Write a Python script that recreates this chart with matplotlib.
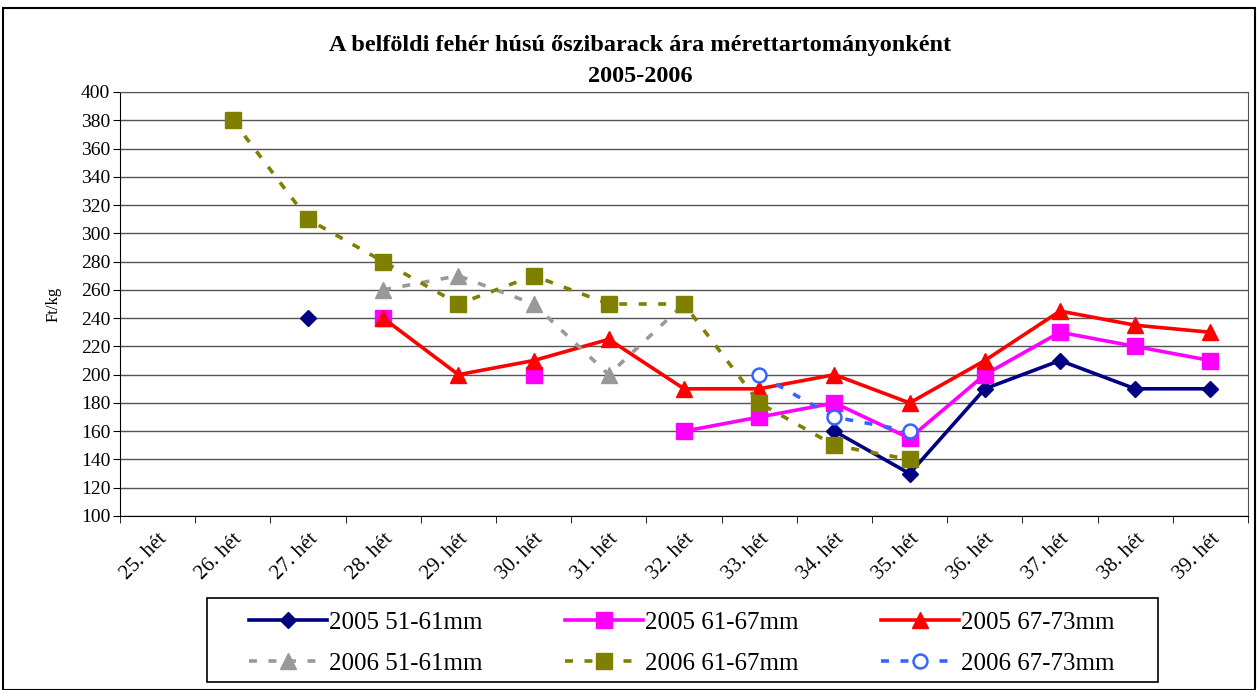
import numpy as np
import matplotlib
matplotlib.use('Agg')
import matplotlib.pyplot as plt
from matplotlib.patches import Rectangle

plt.rcParams['font.family'] = ['Liberation Serif', 'DejaVu Serif']

weeks = [f'{w}. hét' for w in range(25, 40)]
nan = np.nan
# 25 ... 39. hét
s2005_51 = [nan, nan, 240, nan, nan, nan, nan, nan, nan, 160, 130, 190, 210, 190, 190]
s2005_61 = [nan, nan, nan, 240, nan, 200, nan, 160, 170, 180, 155, 200, 230, 220, 210]
s2005_67 = [nan, nan, nan, 240, 200, 210, 225, 190, 190, 200, 180, 210, 245, 235, 230]
s2006_51 = [nan, nan, nan, 260, 270, 250, 200, 250, nan, nan, nan, nan, nan, nan, nan]
s2006_61 = [nan, 380, 310, 280, 250, 270, 250, 250, 180, 150, 140, nan, nan, nan, nan]
s2006_67 = [nan, nan, nan, nan, nan, nan, nan, nan, 200, 170, 160, nan, nan, nan, nan]

fig = plt.figure(figsize=(12.58, 6.9), dpi=100)
ax = fig.add_axes([120/1258, 1-516/690, 1128/1258, 424/690])
x = np.arange(len(weeks))

dash = (0, (2.2, 3.2))
h1, = ax.plot(x, s2005_51, color='#000080', lw=2.6, marker='D', ms=8, label='2005 51-61mm')
h2, = ax.plot(x, s2005_61, color='#FF00FF', lw=2.6, marker='s', ms=11, label='2005 61-67mm')
h3, = ax.plot(x, s2005_67, color='#FF0000', lw=2.6, marker='^', ms=12, label='2005 67-73mm')
h4, = ax.plot(x, s2006_51, color='#999999', lw=2.6, ls=dash, marker='^', ms=12, label='2006 51-61mm')
h5, = ax.plot(x, s2006_61, color='#808000', lw=2.6, ls=dash, marker='s', ms=11, label='2006 61-67mm')
h6, = ax.plot(x, s2006_67, color='#3366FF', lw=2.6, ls=dash, marker='o', ms=10,
              mfc='white', mec='#3366FF', mew=1.8, label='2006 67-73mm')

ax.set_ylim(100, 400)
ax.set_yticks(range(100, 401, 20))
ax.set_xlim(-0.5, len(weeks) - 0.5)
ax.set_xticks(x)
ax.set_xticklabels(weeks, rotation=45, ha='right', rotation_mode='anchor')
ax.set_xticks(np.arange(-0.5, len(weeks), 1), minor=True)
ax.tick_params(axis='x', which='major', length=0, pad=10, labelsize=15)
ax.tick_params(axis='x', which='minor', length=5, direction='out', color='black')
ax.tick_params(axis='y', length=5, direction='out', labelsize=14, pad=2)
ax.grid(axis='y', color='#555555', lw=1)
ax.set_axisbelow(True)
for sp in ax.spines.values():
    sp.set_color('#555555')
ax.spines['left'].set_color('black')
ax.spines['bottom'].set_color('black')
ax.set_ylabel('Ft/kg', fontsize=12, labelpad=14)

fig.text(0.509, 1-46/690, 'A belföldi fehér húsú őszibarack ára mérettartományonként',
         ha='center', va='center', fontsize=17.5, fontweight='bold')
fig.text(0.509, 1-76/690, '2005-2006', ha='center', va='center', fontsize=17.5, fontweight='bold')

# legend without its own frame, box drawn separately (wider side padding as in original)
handles = [h1, h4, h2, h5, h3, h6]
leg = fig.legend(handles, [h.get_label() for h in handles],
                 ncol=3, loc='center', bbox_to_anchor=(682/1258, 1-643/690),
                 fontsize=18, frameon=False,
                 handlelength=3.1, columnspacing=3.3, borderpad=0.35, labelspacing=0.75,
                 handletextpad=0.1)
fig.patches.append(Rectangle((207/1258, 1-682/690), 951/1258, 84/690, transform=fig.transFigure,
                             fill=False, edgecolor='black', lw=1.2))

fig.patches.append(Rectangle((3/1258, 0), 1252/1258, 1-8/690, transform=fig.transFigure,
                             fill=False, edgecolor='black', lw=1.5))

fig.savefig('out.png', dpi=100)
